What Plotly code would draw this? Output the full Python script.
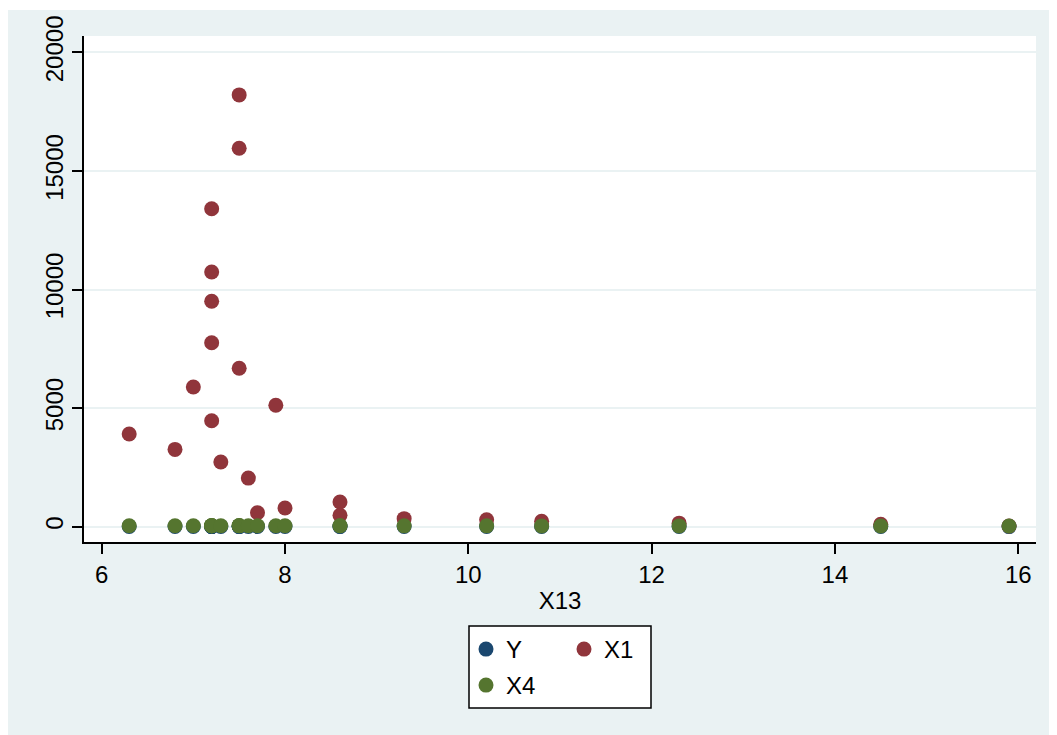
import plotly.graph_objects as go

x13 = [6.3, 6.8, 7.0, 7.2, 7.2, 7.2, 7.2, 7.2, 7.3, 7.5, 7.5, 7.5,
       7.6, 7.7, 7.9, 8.0, 8.6, 8.6, 9.3, 10.2, 10.8, 12.3, 14.5, 15.9]
y_vals = [12, 10, 11, 14, 13, 12, 11, 10, 9, 15, 14, 12,
          10, 9, 13, 10, 11, 9, 8, 9, 8, 7, 6, 5]
x1_vals = [3910, 3260, 5890, 13410, 10740, 9510, 7760, 4470, 2730, 18210, 15960, 6680,
           2050, 590, 5120, 790, 1040, 480, 340, 290, 230, 150, 100, 30]
x4_vals = [40, 38, 42, 45, 44, 43, 41, 40, 39, 46, 45, 43,
           40, 38, 42, 39, 41, 38, 37, 36, 35, 33, 31, 30]

x_ticks = [6, 8, 10, 12, 14, 16]
y_ticks = [0, 5000, 10000, 15000, 20000]
y_ticklabels = ["0", "5000", "10000", "15000", "20000"]

series = [("Y", y_vals, "#1a476f", "legend"),
          ("X1", x1_vals, "#90353b", "legend"),
          ("X4", x4_vals, "#55752f", "legend2")]

BG = "#eaf2f3"
FONT = "Liberation Sans, Arial, sans-serif"
FS = 24

# page is offset by the 8px body margin
OFF = 8
W, H = 1057 - OFF, 735 - OFF
L, R, T, B = 84 - OFF, 21, 36 - OFF, 193
pw, ph = W - L - R, H - T - B


def px(xw):
    return (xw - OFF - L) / pw


def py(yw):
    return (H - B - (yw - OFF)) / ph


fig = go.Figure()
for name, vals, col, lg in series:
    fig.add_trace(go.Scatter(
        x=x13, y=vals, mode="markers", name=name, legend=lg,
        marker=dict(size=15, color=col, line=dict(width=0)),
    ))

fig.update_layout(
    width=W, height=H,
    margin=dict(l=L, r=R, t=T, b=B, autoexpand=False),
    paper_bgcolor="white",
    plot_bgcolor="rgba(0,0,0,0)",
    font=dict(family=FONT, size=FS, color="black"),
    showlegend=True,
    shapes=[
        dict(type="rect", xref="paper", yref="paper", layer="below",
             x0=px(OFF), x1=px(1050), y0=py(760), y1=py(10),
             fillcolor=BG, line=dict(width=0)),
        dict(type="rect", xref="paper", yref="paper", layer="below",
             x0=0, x1=1, y0=0, y1=1,
             fillcolor="white", line=dict(width=0)),
        dict(type="rect", xref="paper", yref="paper", layer="below",
             x0=px(469), x1=px(651), y0=py(708), y1=py(626),
             fillcolor="white", line=dict(width=1.5, color="black")),
    ],
    legend=dict(
        orientation="h", x=px(466), xanchor="left", y=py(627), yanchor="top",
        bgcolor="rgba(0,0,0,0)", borderwidth=0,
        entrywidth=53, entrywidthmode="pixels",
        font=dict(size=FS, family=FONT, color="black"),
    ),
    legend2=dict(
        orientation="h", x=px(466), xanchor="left", y=py(663), yanchor="top",
        bgcolor="rgba(0,0,0,0)", borderwidth=0,
        font=dict(size=FS, family=FONT, color="black"),
    ),
    xaxis=dict(
        range=[5.807, 16.194], tickvals=x_ticks,
        showgrid=False, zeroline=False,
        showline=True, linecolor="black", linewidth=1.5,
        ticks="outside", ticklen=10, tickwidth=1.5, tickcolor="black",
        title=dict(text="X13", standoff=6, font=dict(size=FS)),
        tickfont=dict(size=FS),
    ),
    yaxis=dict(
        range=[-645, 20695], tickvals=y_ticks, ticktext=y_ticklabels,
        showgrid=True, gridcolor=BG, gridwidth=2, zeroline=False,
        showline=True, linecolor="black", linewidth=1.5,
        ticks="outside", ticklen=10, tickwidth=1.5, tickcolor="black",
        tickangle=-90, tickfont=dict(size=FS),
    ),
)

fig.write_html("out.html")
